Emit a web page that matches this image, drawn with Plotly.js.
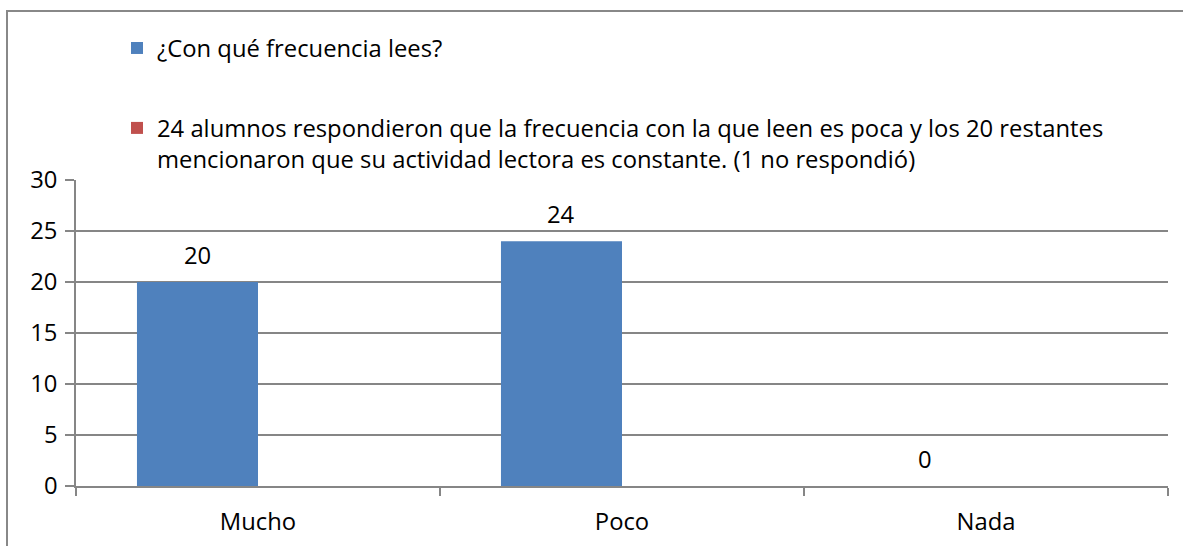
<!DOCTYPE html>
<html>
<head>
<meta charset="utf-8">
<script src="https://cdn.plot.ly/plotly-3.0.1.min.js"></script>
<style>html,body{margin:0;padding:0;background:#fff;}#chart{width:1183px;height:546px;}</style>
</head>
<body>
<div id="chart"></div>
<script>
const categories = ["Mucho", "Poco", "Nada"];
const seriesNames = [
  "¿Con qué frecuencia lees?",
  "24 alumnos respondieron que la frecuencia con la que leen es poca y los 20 restantes<br>mencionaron que su actividad lectora es constante. (1 no respondió)"
];
const frecuencia = [20, 24, 0];
const comentario = [null, null, null];
const yTicks = [0, 5, 10, 15, 20, 25, 30];

const FONT = "Open Sans, Liberation Sans, Arial, sans-serif";
const FS = 23.8;
const bargap = 0.335;
const W = 1183, H = 546;
const M = {l: 76, r: 15, t: 180, b: 60};
const plotW = W - M.l - M.r, plotH = H - M.t - M.b;

const traces = [
  {type: "bar", x: categories, y: frecuencia, name: seriesNames[0], legendgroup: "a",
   marker: {color: "#4F81BD"}, hoverinfo: "x+y"},
  {type: "bar", x: categories, y: comentario, name: seriesNames[1], legendgroup: "b",
   marker: {color: "#C0504D"}, hoverinfo: "x+y"}
];

const blueOffset = -(1 - bargap) / 4;
const annotations = frecuencia.map((v, i) => ({
  x: i + blueOffset, y: v, xref: "x", yref: "y", text: String(v),
  showarrow: false, yanchor: "middle", yshift: 27,
  font: {family: FONT, size: FS, color: "#000"}
}));

const layout = {
  width: W, height: H,
  margin: M,
  paper_bgcolor: "#fff", plot_bgcolor: "#fff",
  font: {family: FONT, size: FS, color: "#000"},
  barmode: "group", bargap: bargap, bargroupgap: 0,
  showlegend: true,
  legend: {
    x: (117 - M.l) / plotW, xanchor: "left",
    y: (H - M.b - 26) / plotH, yanchor: "top",
    valign: "top", tracegroupgap: 46,
    font: {family: FONT, size: FS, color: "#000"},
    bgcolor: "rgba(0,0,0,0)"
  },
  xaxis: {
    type: "category", showgrid: false, zeroline: false,
    showline: true, linecolor: "#868686", linewidth: 1.5,
    ticks: "outside", tickson: "boundaries", ticklen: 8, tickcolor: "#868686", tickwidth: 1.5,
    ticklabelstandoff: 14,
    tickfont: {family: FONT, size: FS, color: "#000"}
  },
  yaxis: {
    range: [0, 30], tickvals: yTicks, ticktext: yTicks.map(String),
    showgrid: true, gridcolor: "#868686", gridwidth: 1.5, zeroline: false,
    showline: true, linecolor: "#868686", linewidth: 1.5,
    ticks: "outside", ticklen: 9, tickcolor: "#868686", tickwidth: 1.5,
    ticklabelstandoff: 3,
    tickfont: {family: FONT, size: FS, color: "#000"}
  },
  annotations: annotations,
  shapes: [{
    type: "rect", xref: "paper", yref: "paper", layer: "below",
    x0: (7 - M.l) / plotW, x1: (W + 20 - M.l) / plotW,
    y0: -(M.b + 20) / plotH, y1: (H - M.b - 11) / plotH,
    line: {color: "#888888", width: 2}, fillcolor: "rgba(0,0,0,0)"
  }]
};

Plotly.newPlot("chart", traces, layout, {displayModeBar: false, responsive: false});
</script>
</body>
</html>
